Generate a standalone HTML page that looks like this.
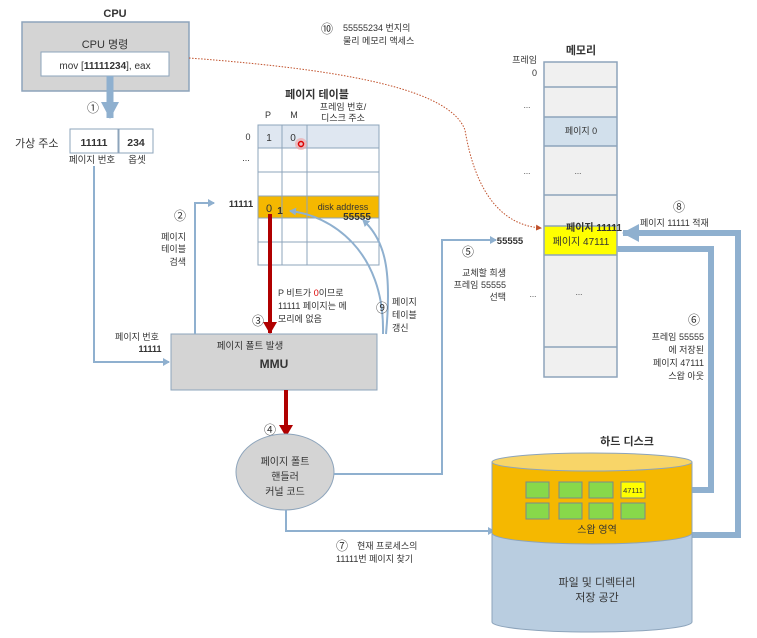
<!DOCTYPE html>
<html><head><meta charset="utf-8"><style>
html,body{margin:0;padding:0;background:#fff;}
svg text{font-family:"Liberation Sans","Noto Sans CJK KR",sans-serif;fill:#333;}
</style></head><body>
<svg width="757" height="633" viewBox="0 0 757 633" xmlns="http://www.w3.org/2000/svg">
<defs>
<marker id="ab" markerWidth="8" markerHeight="8" refX="6" refY="4" orient="auto" markerUnits="userSpaceOnUse"><path d="M0,0 L7,4 L0,8z" fill="#8fb0cf"/></marker>
<marker id="abig" markerWidth="20" markerHeight="20" refX="16" refY="10" orient="auto" markerUnits="userSpaceOnUse"><path d="M0,1 L17,10 L0,19z" fill="#8fb0cf"/></marker>
<marker id="ar" markerWidth="14" markerHeight="14" refX="11" refY="7" orient="auto" markerUnits="userSpaceOnUse"><path d="M0,0 L12,7 L0,14z" fill="#b00000"/></marker>
<marker id="ao" markerWidth="6" markerHeight="6" refX="5" refY="3" orient="auto" markerUnits="userSpaceOnUse"><path d="M0,0 L6,3 L0,6z" fill="#c0502a"/></marker>
</defs>

<!-- CPU -->
<text x="115" y="17" font-size="11" font-weight="bold" text-anchor="middle" fill="#111">CPU</text>
<rect x="22" y="22" width="167" height="69" fill="#d4d4d4" stroke="#8da4bb" stroke-width="1.5"/>
<text x="105" y="48" font-size="11" text-anchor="middle">CPU 명령</text>
<rect x="41" y="52" width="128" height="24" fill="#fff" stroke="#8da4bb"/>
<text x="105" y="69" font-size="10" text-anchor="middle">mov [<tspan font-weight="bold">11111234</tspan>], eax</text>
<!-- ① -->
<line x1="110" y1="76" x2="110" y2="118" stroke="#8fb0cf" stroke-width="7" marker-end="url(#abig)"/>
<text x="93" y="112" font-size="12" text-anchor="middle">①</text>

<!-- virtual address -->
<text x="15" y="147" font-size="11">가상 주소</text>
<rect x="70" y="129" width="48" height="24" fill="#fff" stroke="#8da4bb"/>
<rect x="119" y="129" width="34" height="24" fill="#fff" stroke="#8da4bb"/>
<text x="94" y="146" font-size="10.5" font-weight="bold" text-anchor="middle" fill="#222">11111</text>
<text x="136" y="146" font-size="10.5" font-weight="bold" text-anchor="middle" fill="#222">234</text>
<text x="92" y="163" font-size="9.5" text-anchor="middle" fill="#666">페이지 번호</text>
<text x="137" y="163" font-size="9.5" text-anchor="middle" fill="#666">옵셋</text>
<polyline points="94,166 94,362 169,362" fill="none" stroke="#8fb0cf" stroke-width="2" marker-end="url(#ab)"/>
<text x="137" y="340" font-size="9" text-anchor="middle">페이지 번호</text>
<text x="150" y="352" font-size="9" font-weight="bold" text-anchor="middle">11111</text>

<!-- MMU -->
<rect x="171" y="334" width="206" height="56" fill="#d4d4d4" stroke="#8da4bb"/>
<text x="250" y="349" font-size="9.5" text-anchor="middle">페이지 폴트 발생</text>
<text x="274" y="368" font-size="12" font-weight="bold" text-anchor="middle" fill="#222">MMU</text>

<!-- ② -->
<polyline points="195,334 195,203 214,203" fill="none" stroke="#8fb0cf" stroke-width="2" marker-end="url(#ab)"/>
<text x="180" y="220" font-size="12" text-anchor="middle">②</text>
<text x="186" y="240" font-size="9" text-anchor="end" fill="#666">페이지</text>
<text x="186" y="252" font-size="9" text-anchor="end" fill="#666">테이블</text>
<text x="186" y="265" font-size="9" text-anchor="end" fill="#666">검색</text>

<!-- page table -->
<text x="317" y="98" font-size="11" font-weight="bold" text-anchor="middle" fill="#111">페이지 테이블</text>
<text x="268" y="118" font-size="9" text-anchor="middle">P</text>
<text x="294" y="118" font-size="9" text-anchor="middle">M</text>
<text x="343" y="110" font-size="9" text-anchor="middle">프레임 번호/</text>
<text x="343" y="121" font-size="9" text-anchor="middle">디스크 주소</text>
<rect x="258" y="125" width="121" height="23" fill="#dfe7f1"/>
<rect x="258" y="196" width="121" height="22" fill="#f5b800"/>
<g stroke="#8da4bb" stroke-width="1" fill="none">
<rect x="258" y="125" width="121" height="140"/>
<line x1="282" y1="125" x2="282" y2="265"/><line x1="307" y1="125" x2="307" y2="265"/>
<line x1="258" y1="148" x2="379" y2="148"/><line x1="258" y1="172" x2="379" y2="172"/>
<line x1="258" y1="196" x2="379" y2="196"/><line x1="258" y1="218" x2="379" y2="218"/>
<line x1="258" y1="242" x2="379" y2="242"/>
</g>
<text x="248" y="140" font-size="9" text-anchor="middle">0</text>
<text x="246" y="161" font-size="9" text-anchor="middle">...</text>
<text x="241" y="207" font-size="9.5" font-weight="bold" text-anchor="middle" fill="#111">11111</text>
<text x="269" y="141" font-size="10" text-anchor="middle">1</text>
<text x="293" y="141" font-size="10" text-anchor="middle">0</text>
<circle cx="301" cy="144" r="6" fill="#f2a0a0" opacity="0.6"/>
<circle cx="301" cy="144" r="2.5" fill="none" stroke="#d00" stroke-width="1.5"/>
<text x="269" y="212" font-size="11" text-anchor="middle">0</text>
<text x="280" y="214" font-size="10" font-weight="bold" text-anchor="middle" fill="#b00000">1</text>
<text x="343" y="210" font-size="9" text-anchor="middle">disk address</text>
<text x="357" y="220" font-size="10" font-weight="bold" text-anchor="middle" fill="#c00000">55555</text>

<!-- ③ -->
<line x1="270" y1="214" x2="270" y2="333" stroke="#b00000" stroke-width="4" marker-end="url(#ar)"/>
<text x="258" y="325" font-size="12" text-anchor="middle">③</text>
<text x="278" y="296" font-size="9">P 비트가 <tspan fill="#d00">0</tspan>이므로</text>
<text x="278" y="309" font-size="9">11111 페이지는 메</text>
<text x="278" y="322" font-size="9">모리에 없음</text>

<!-- ⑨ -->
<path d="M383,334 C385,250 330,215 290,211" fill="none" stroke="#8fb0cf" stroke-width="2" marker-end="url(#ab)"/>
<path d="M386,334 C392,270 385,240 363,220" fill="none" stroke="#8fb0cf" stroke-width="2" marker-end="url(#ab)"/>
<text x="382" y="312" font-size="12" text-anchor="middle">⑨</text>
<text x="392" y="305" font-size="9" fill="#666">페이지</text>
<text x="392" y="318" font-size="9" fill="#666">테이블</text>
<text x="392" y="331" font-size="9" fill="#666">갱신</text>

<!-- ④ -->
<line x1="286" y1="390" x2="286" y2="436" stroke="#b00000" stroke-width="4" marker-end="url(#ar)"/>
<text x="270" y="434" font-size="12" text-anchor="middle">④</text>
<ellipse cx="285" cy="472" rx="49" ry="38" fill="#d4d4d4" stroke="#8da4bb"/>
<text x="285" y="465" font-size="10" text-anchor="middle">페이지 폴트</text>
<text x="285" y="480" font-size="10" text-anchor="middle">핸들러</text>
<text x="285" y="495" font-size="10" text-anchor="middle">커널 코드</text>

<!-- ⑤ -->
<polyline points="334,474 442,474 442,240 496,240" fill="none" stroke="#8fb0cf" stroke-width="2" marker-end="url(#ab)"/>
<text x="468" y="256" font-size="12" text-anchor="middle">⑤</text>
<text x="506" y="276" font-size="9" text-anchor="end" fill="#666">교체할 희생</text>
<text x="506" y="288" font-size="9" text-anchor="end" fill="#666">프레임 55555</text>
<text x="506" y="300" font-size="9" text-anchor="end" fill="#666">선택</text>

<!-- ⑦ -->
<polyline points="286,510 286,531 494,531" fill="none" stroke="#8fb0cf" stroke-width="2" marker-end="url(#ab)"/>
<text x="342" y="550" font-size="12" text-anchor="middle">⑦</text>
<text x="357" y="549" font-size="9" fill="#666">현재 프로세스의</text>
<text x="336" y="562" font-size="9" fill="#666">11111번 페이지 찾기</text>

<!-- ⑩ -->
<path d="M189,58 C350,70 450,90 465,130 C475,190 500,225 541,228" fill="none" stroke="#c0502a" stroke-width="1" stroke-dasharray="1.5,1.5" marker-end="url(#ao)"/>
<text x="327" y="33" font-size="12" text-anchor="middle">⑩</text>
<text x="343" y="31" font-size="9">55555234 번지의</text>
<text x="343" y="44" font-size="9">물리 메모리 액세스</text>

<!-- memory -->
<text x="581" y="54" font-size="11" font-weight="bold" text-anchor="middle" fill="#111">메모리</text>
<text x="537" y="63" font-size="9" text-anchor="end" fill="#666">프레임</text>
<text x="537" y="76" font-size="9" text-anchor="end" fill="#666">0</text>
<rect x="544" y="62" width="73" height="315" fill="#f0f0f0" stroke="#8da4bb"/>
<rect x="544" y="117" width="73" height="29" fill="#d2e0ec"/>
<rect x="544" y="226" width="73" height="29" fill="#ffff00"/>
<g stroke="#8da4bb" stroke-width="1.5">
<line x1="544" y1="87" x2="617" y2="87"/><line x1="544" y1="117" x2="617" y2="117"/>
<line x1="544" y1="146" x2="617" y2="146"/><line x1="544" y1="195" x2="617" y2="195"/>
<line x1="544" y1="226" x2="617" y2="226"/><line x1="544" y1="255" x2="617" y2="255"/>
<line x1="544" y1="347" x2="617" y2="347"/>
</g>
<rect x="544" y="62" width="73" height="315" fill="none" stroke="#8da4bb" stroke-width="1.5"/>
<text x="581" y="134" font-size="9" text-anchor="middle" fill="#555">페이지 0</text>
<text x="527" y="108" font-size="8" text-anchor="middle">...</text>
<text x="527" y="174" font-size="8" text-anchor="middle">...</text>
<text x="578" y="174" font-size="8" text-anchor="middle">...</text>
<text x="533" y="297" font-size="8" text-anchor="middle">...</text>
<text x="579" y="295" font-size="8" text-anchor="middle">...</text>
<text x="510" y="244" font-size="9.5" font-weight="bold" text-anchor="middle" fill="#222">55555</text>
<text x="594" y="231" font-size="10" font-weight="bold" text-anchor="middle" fill="#b00000">페이지 11111</text>
<text x="581" y="245" font-size="10" text-anchor="middle" fill="#333">페이지 47111</text>

<!-- ⑧ -->
<polyline points="692,535 738,535 738,233 623,233" fill="none" stroke="#8fb0cf" stroke-width="6" marker-end="url(#abig)"/>
<text x="679" y="211" font-size="12" text-anchor="middle">⑧</text>
<text x="640" y="226" font-size="9" fill="#555">페이지 11111  적재</text>

<!-- ⑥ -->
<polyline points="617,249 711,249 711,490 651,490" fill="none" stroke="#8fb0cf" stroke-width="6" marker-end="url(#abig)"/>
<text x="694" y="324" font-size="12" text-anchor="middle">⑥</text>
<text x="704" y="340" font-size="9" text-anchor="end" fill="#555">프레임 55555</text>
<text x="704" y="353" font-size="9" text-anchor="end" fill="#555">에 저장된</text>
<text x="704" y="366" font-size="9" text-anchor="end" fill="#555">페이지 47111</text>
<text x="704" y="379" font-size="9" text-anchor="end" fill="#555">스왑 아웃</text>

<!-- disk -->
<text x="627" y="445" font-size="11" font-weight="bold" text-anchor="middle" fill="#111">하드 디스크</text>
<path d="M492,533 L492,622 A100,10 0 0 0 692,622 L692,533 Z" fill="#b9cde0" stroke="#8da4bb"/>
<path d="M492,462 L492,533 A100,11 0 0 0 692,533 L692,462 Z" fill="#f5b800" stroke="#8da4bb"/>
<ellipse cx="592" cy="462" rx="100" ry="9" fill="#f8d568" stroke="#8da4bb"/>
<g fill="#88d84a" stroke="#7a8a8a" stroke-width="1">
<rect x="526" y="482" width="23" height="16"/><rect x="559" y="482" width="23" height="16"/>
<rect x="589" y="482" width="24" height="16"/>
<rect x="526" y="503" width="23" height="16"/><rect x="559" y="503" width="23" height="16"/>
<rect x="589" y="503" width="24" height="16"/><rect x="621" y="503" width="24" height="16"/>
</g>
<rect x="621" y="482" width="24" height="16" fill="#ffff00" stroke="#7a8a8a"/>
<text x="633" y="493" font-size="7.5" text-anchor="middle">47111</text>
<text x="597" y="533" font-size="10" text-anchor="middle" fill="#444">스왑 영역</text>
<text x="597" y="586" font-size="11" text-anchor="middle" fill="#333">파일 및 디렉터리</text>
<text x="597" y="601" font-size="11" text-anchor="middle" fill="#333">저장 공간</text>
</svg>
</body></html>
